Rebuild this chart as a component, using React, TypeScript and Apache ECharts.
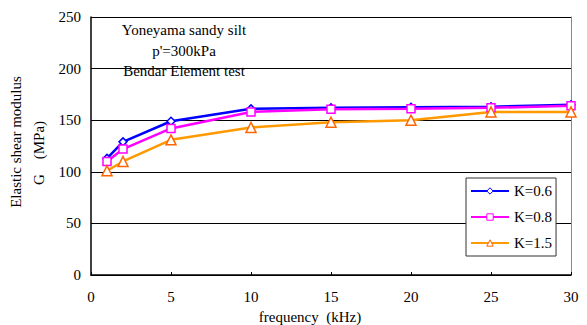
import React, { useEffect, useRef } from "react";
import * as echarts from "echarts";

const frequency = [1, 2, 5, 10, 15, 20, 25, 30];
const k06 = [113, 129, 149, 161, 162, 162.5, 163, 165];
const k08 = [110, 122, 142, 158, 160.5, 161, 162, 164];
const k15 = [101, 110, 131, 143, 148, 150, 158, 158];
const seriesNames = ["K=0.6", "K=0.8", "K=1.5"];
const annotations = ["Yoneyama sandy silt", "p'=300kPa", "Bendar Element test"];
const yLabelLines = ["Elastic shear modulus", "G\u2003(MPa)"];
const xLabel = "frequency  (kHz)";

const FONT = "'Liberation Serif', 'Times New Roman', serif";

export default function App() {
  const ref = useRef<HTMLDivElement>(null);
  useEffect(() => {
    if (!ref.current) return;
    const chart = echarts.init(ref.current, null, { renderer: "svg" });
    const pair = (ys: number[]) => frequency.map((x, i) => [x, ys[i]]);
    const txt = (text: string, x: number, y: number, rot = 0) => ({
      type: "text",
      x,
      y,
      rotation: rot,
      style: {
        text,
        font: `15px ${FONT}`,
        fill: "#000",
        align: "center",
        verticalAlign: "middle",
      },
    });
    chart.setOption({
      animation: false,
      backgroundColor: "#fff",
      textStyle: { fontFamily: FONT },
      grid: { left: 91, right: 16, top: 17, bottom: 50, containLabel: false },
      xAxis: {
        type: "value",
        min: 0,
        max: 30,
        interval: 5,
        axisLine: { show: true, lineStyle: { color: "#000", width: 1.5 } },
        axisTick: { show: true, inside: true, length: 3, lineStyle: { color: "#000" } },
        axisLabel: { color: "#000", fontSize: 15, fontFamily: FONT, margin: 14 },
        splitLine: { show: false },
      },
      yAxis: [
        {
          type: "value",
          min: 0,
          max: 250,
          interval: 50,
          axisLine: { show: true, lineStyle: { color: "#000", width: 1.5 } },
          axisTick: { show: true, inside: true, length: 3, lineStyle: { color: "#000" } },
          axisLabel: { color: "#000", fontSize: 15, fontFamily: FONT, margin: 10 },
          splitLine: { show: true, lineStyle: { color: "#000", width: 1 } },
        },
        {
          type: "value",
          min: 0,
          max: 250,
          interval: 50,
          position: "right",
          axisLine: { show: true, lineStyle: { color: "#888", width: 1 } },
          axisTick: { show: false },
          axisLabel: { show: false },
          splitLine: { show: false },
        },
      ],
      legend: {
        orient: "vertical",
        left: 466,
        top: 178,
        padding: [5, 4, 5, 4],
        itemWidth: 38,
        itemHeight: 8,
        itemGap: 10,
        backgroundColor: "#fff",
        borderColor: "#333",
        borderWidth: 1,
        borderRadius: 0,
        itemStyle: { borderWidth: 1 },
        textStyle: { color: "#000", fontSize: 15, fontFamily: FONT, lineHeight: 16 },
        data: seriesNames,
      },
      graphic: [
        ...annotations.map((t, i) => txt(t, 184, 30 + i * 20.5)),
        txt(yLabelLines[0], 16, 142, Math.PI / 2),
        txt(yLabelLines[1], 39, 153, Math.PI / 2),
        txt(xLabel, 310, 317),
      ],
      series: [
        {
          name: seriesNames[0],
          type: "line",
          data: pair(k06),
          symbol: "diamond",
          symbolSize: 8,
          lineStyle: { color: "#0000FF", width: 2.5 },
          itemStyle: { color: "#fff", borderColor: "#0000FF", borderWidth: 1.5 },
        },
        {
          name: seriesNames[1],
          type: "line",
          data: pair(k08),
          symbol: "rect",
          symbolSize: 8,
          lineStyle: { color: "#FF00FF", width: 2.5 },
          itemStyle: { color: "#fff", borderColor: "#FF00FF", borderWidth: 1.5 },
        },
        {
          name: seriesNames[2],
          type: "line",
          data: pair(k15),
          symbol: "triangle",
          symbolSize: 10,
          lineStyle: { color: "#FF9900", width: 2.5 },
          itemStyle: { color: "#fff", borderColor: "#FF6600", borderWidth: 1.5 },
        },
      ],
    });
    return () => chart.dispose();
  }, []);
  return <div ref={ref} style={{ width: 587, height: 325, position: "absolute", left: 0, top: 0 }} />;
}
